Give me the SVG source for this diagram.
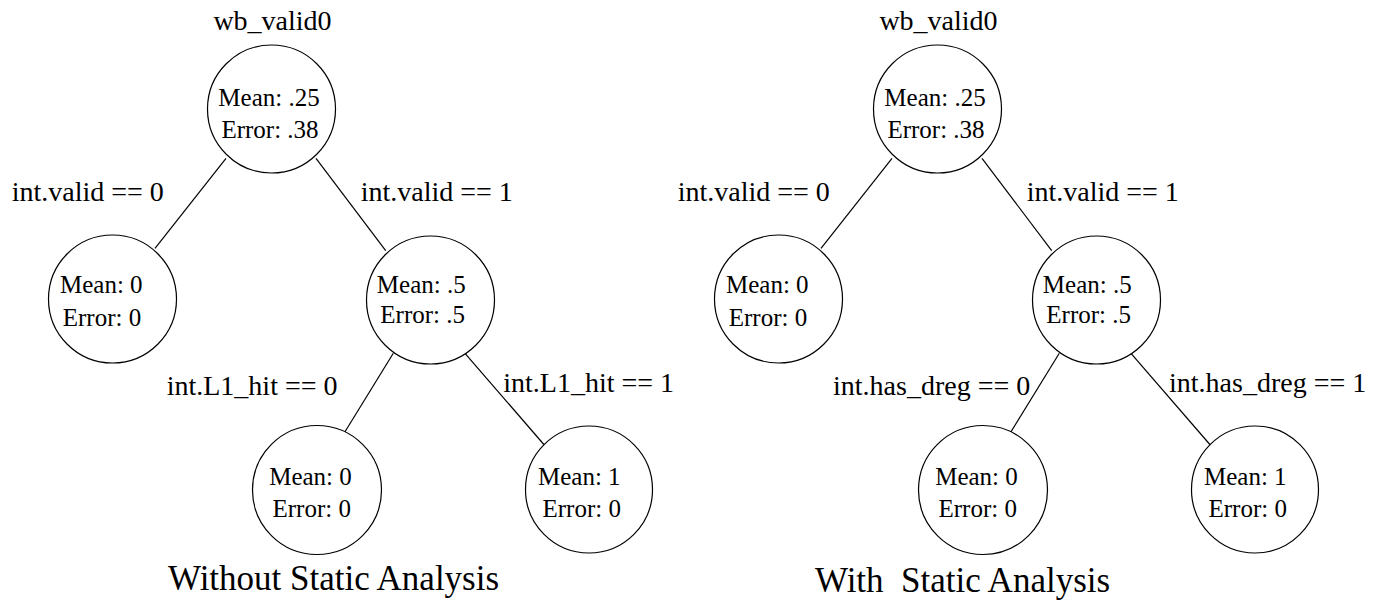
<svg xmlns="http://www.w3.org/2000/svg" width="1384" height="603" viewBox="0 0 1384 603">
  <style>
    .node { fill: #ffffff; stroke: #000000; stroke-width: 1.2; }
    .edge { stroke: #000000; stroke-width: 1.2; fill: none; }
    .val { font-family: "Liberation Serif", "Times New Roman", serif; font-size: 25px; fill: #000000; text-anchor: middle; }
    .lbl { font-family: "Liberation Serif", "Times New Roman", serif; font-size: 28px; fill: #000000; }
    .cap { font-family: "Liberation Serif", "Times New Roman", serif; font-size: 35px; fill: #000000; white-space: pre; }
  </style>

  <!-- Left tree: split on int.L1_hit -->
  <g id="tree-without">
    <g id="connectors-without">
      <line class="edge" x1="226" y1="158.3" x2="155" y2="248.3"/>
      <line class="edge" x1="316" y1="158.3" x2="385.7" y2="250.7"/>
      <line class="edge" x1="393.3" y1="353.3" x2="345" y2="431.7"/>
      <line class="edge" x1="465" y1="353.3" x2="544.3" y2="445"/>
    </g>
    <text class="lbl" x="272.5" y="30" text-anchor="middle">wb_valid0</text>
    <text class="lbl" x="11.7" y="201">int.valid == 0</text>
    <text class="lbl" x="360.7" y="201">int.valid == 1</text>
    <text class="lbl" x="166.7" y="395">int.L1_hit == 0</text>
    <text class="lbl" x="503.3" y="392">int.L1_hit == 1</text>

    <g id="w-root">
      <circle class="node" cx="271.5" cy="109" r="64"/>
      <text class="val" x="269" y="106">Mean: .25</text>
      <text class="val" x="270" y="138">Error: .38</text>
    </g>
    <g id="w-valid0">
      <circle class="node" cx="112.5" cy="299" r="64"/>
      <text class="val" x="101.3" y="293.3">Mean: 0</text>
      <text class="val" x="102" y="325.7">Error: 0</text>
    </g>
    <g id="w-valid1">
      <circle class="node" cx="430.5" cy="300" r="64"/>
      <text class="val" x="421.3" y="292.7">Mean: .5</text>
      <text class="val" x="422.7" y="322.7">Error: .5</text>
    </g>
    <g id="w-hit0">
      <circle class="node" cx="317" cy="490" r="64.5"/>
      <text class="val" x="310.5" y="485">Mean: 0</text>
      <text class="val" x="311.7" y="516.7">Error: 0</text>
    </g>
    <g id="w-hit1">
      <circle class="node" cx="589" cy="489.5" r="63.5"/>
      <text class="val" x="579.3" y="485">Mean: 1</text>
      <text class="val" x="581.7" y="516.7">Error: 0</text>
    </g>
    <text class="cap" x="168" y="590">Without Static Analysis</text>
  </g>

  <!-- Right tree: split on int.has_dreg -->
  <g id="tree-with" transform="translate(666,0)">
    <g id="connectors-with">
      <line class="edge" x1="226" y1="158.3" x2="155" y2="248.3"/>
      <line class="edge" x1="316" y1="158.3" x2="385.7" y2="250.7"/>
      <line class="edge" x1="393.3" y1="353.3" x2="345" y2="431.7"/>
      <line class="edge" x1="465" y1="353.3" x2="544.3" y2="445"/>
    </g>
    <text class="lbl" x="272.5" y="30" text-anchor="middle">wb_valid0</text>
    <text class="lbl" x="11.7" y="201">int.valid == 0</text>
    <text class="lbl" x="360.7" y="201">int.valid == 1</text>
    <text class="lbl" x="167" y="395">int.has_dreg == 0</text>
    <text class="lbl" x="503" y="392">int.has_dreg == 1</text>

    <g id="s-root">
      <circle class="node" cx="271.5" cy="109" r="64"/>
      <text class="val" x="269" y="106">Mean: .25</text>
      <text class="val" x="270" y="138">Error: .38</text>
    </g>
    <g id="s-valid0">
      <circle class="node" cx="112.5" cy="299" r="64"/>
      <text class="val" x="101.3" y="293.3">Mean: 0</text>
      <text class="val" x="102" y="325.7">Error: 0</text>
    </g>
    <g id="s-valid1">
      <circle class="node" cx="430.5" cy="300" r="64"/>
      <text class="val" x="421.3" y="292.7">Mean: .5</text>
      <text class="val" x="422.7" y="322.7">Error: .5</text>
    </g>
    <g id="s-dreg0">
      <circle class="node" cx="317" cy="490" r="64.5"/>
      <text class="val" x="310.5" y="485">Mean: 0</text>
      <text class="val" x="311.7" y="516.7">Error: 0</text>
    </g>
    <g id="s-dreg1">
      <circle class="node" cx="589" cy="489.5" r="63.5"/>
      <text class="val" x="579.3" y="485">Mean: 1</text>
      <text class="val" x="581.7" y="516.7">Error: 0</text>
    </g>
    <text class="cap" x="149" y="592" xml:space="preserve">With  Static Analysis</text>
  </g>
</svg>
